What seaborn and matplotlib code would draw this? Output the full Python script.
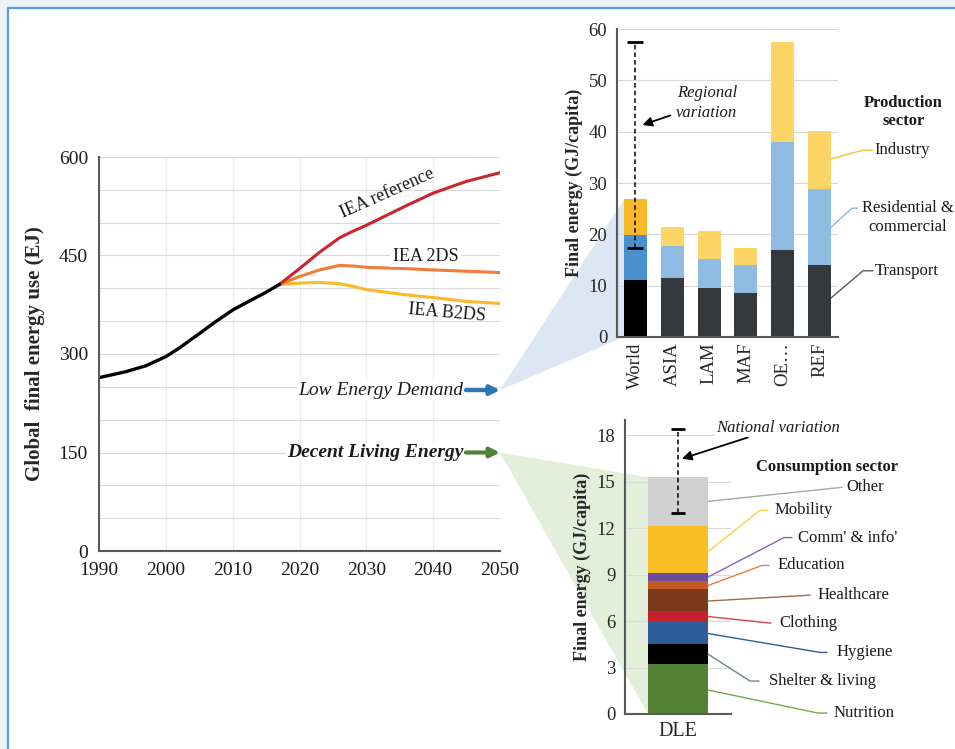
import matplotlib
matplotlib.use("Agg")
import matplotlib.pyplot as plt
import matplotlib.patches as mpatches
import matplotlib.ticker as ticker
import pandas as pd
import seaborn as sns

sns.set_theme(style="white")
plt.rcParams["font.family"] = ["Liberation Serif", "DejaVu Serif"]
plt.rcParams["text.color"] = "#1a1a1a"

# global final energy use (EJ)
hist_years = [1990, 1994, 1997, 2000, 2002, 2005, 2007, 2010, 2012, 2015, 2017]
hist_ej = [264, 273, 282, 296, 309, 331, 346, 367, 378, 394, 406]

scen_years = [2017, 2020, 2023, 2026, 2028, 2030, 2033, 2036, 2040, 2045, 2050]
iea_ref = [406, 430, 455, 477, 487, 496, 511, 526, 545, 563, 576]
iea_2ds = [406, 418, 428, 435, 434, 432, 431, 430, 428, 426, 424]
iea_b2ds = [406, 408, 409, 407, 403, 398, 394, 390, 386, 380, 377]

led_ej = 245
dle_ej = 150

# final energy by production sector (GJ/capita)
regions = ["World", "ASIA", "LAM", "MAF", "OE\u2026", "REF"]
transport = [11.2, 11.5, 9.6, 8.5, 17.0, 14.0]
residential = [8.7, 6.3, 5.5, 5.5, 21.0, 14.8]
industry = [6.9, 3.7, 5.5, 3.4, 19.5, 11.3]
regional_range = [17.3, 57.4]

# decent living energy by consumption sector (GJ/capita)
dle_sectors = ["Nutrition", "Shelter & living", "Hygiene", "Clothing", "Healthcare",
               "Education", "Comm' & info'", "Mobility", "Other"]
dle_values = [3.2, 1.35, 1.4, 0.7, 1.45, 0.5, 0.5, 3.05, 3.15]
national_range = [13.0, 18.4]

W, H = 955, 749
fig = plt.figure(figsize=(W / 100, H / 100), dpi=100)
fig.patch.set_facecolor("#edf2f8")
fig.patches.append(mpatches.Rectangle(
    (8 / W, -0.1), 1.2, (H - 8) / H + 0.1, transform=fig.transFigure,
    facecolor="white", edgecolor="#5b9bd5", lw=1.6, zorder=-3))

spine_c = "#595959"
grid_c = "#d9d9d9"


def style_axes(ax):
    for s in ["top", "right"]:
        ax.spines[s].set_visible(False)
    for s in ["left", "bottom"]:
        ax.spines[s].set_color(spine_c)
        ax.spines[s].set_linewidth(1.5)


# ---------- left: global final energy ----------
ax1 = fig.add_axes([99 / W, (H - 551) / H, 401 / W, 394 / H])
ax1.set_facecolor("white")
df_hist = pd.DataFrame({"year": hist_years, "ej": hist_ej})
df_scen = pd.DataFrame({"year": scen_years, "ref": iea_ref, "2ds": iea_2ds, "b2ds": iea_b2ds})
sns.lineplot(data=df_scen, x="year", y="b2ds", color="#fbb829", lw=2.2, ax=ax1)
sns.lineplot(data=df_scen, x="year", y="2ds", color="#f07c3a", lw=2.2, ax=ax1)
sns.lineplot(data=df_scen, x="year", y="ref", color="#c9252c", lw=2.2, ax=ax1)
sns.lineplot(data=df_hist, x="year", y="ej", color="black", lw=2.4, ax=ax1)
for ln in ax1.lines:
    ln.set_solid_joinstyle("round")
ax1.set_xlim(1990, 2050)
ax1.set_ylim(0, 600)
ax1.set_xticks(range(1990, 2051, 10))
ax1.set_yticks(range(0, 601, 150))
ax1.yaxis.set_minor_locator(ticker.MultipleLocator(50))
ax1.grid(True, axis="y", which="both", color=grid_c, lw=0.8)
ax1.grid(True, axis="x", which="major", color="#ececec", lw=0.8)
ax1.set_axisbelow(True)
style_axes(ax1)
ax1.tick_params(axis="both", which="major", direction="out", length=5, width=1.2,
                color=spine_c, labelsize=14, labelcolor="#1a1a1a", pad=3)
ax1.tick_params(axis="y", which="minor", length=0)
ax1.set_xlabel("")
ax1.set_ylabel("Global  final energy use (EJ)", fontsize=15, fontweight="bold", labelpad=10)

ax1.text(2033.1, 545, "IEA reference", rotation=24, ha="center", va="center", fontsize=13)
ax1.text(2038.9, 449, "IEA 2DS", ha="center", va="center", fontsize=13,
         bbox=dict(facecolor="white", edgecolor="none", pad=2))
ax1.text(2042.1, 362, "IEA B2DS", rotation=-5, ha="center", va="center", fontsize=13)

ax1.text(2044.5, led_ej, "Low Energy Demand", ha="right", va="center", fontsize=14,
         style="italic", bbox=dict(facecolor="white", edgecolor="none", pad=1))
ax1.annotate("", xy=(2050, led_ej), xytext=(2044.9, led_ej),
             arrowprops=dict(arrowstyle="-|>", color="#2e75b6", lw=3, mutation_scale=14,
                             shrinkA=0, shrinkB=0))
ax1.text(2044.5, dle_ej, "Decent Living Energy", ha="right", va="center", fontsize=14,
         style="italic", fontweight="bold", bbox=dict(facecolor="white", edgecolor="none", pad=1))
ax1.annotate("", xy=(2050, dle_ej), xytext=(2044.9, dle_ej),
             arrowprops=dict(arrowstyle="-|>", color="#548235", lw=3, mutation_scale=14,
                             shrinkA=0, shrinkB=0))

# ---------- top right: production sectors ----------
ax2 = fig.add_axes([617 / W, (H - 337) / H, 221 / W, 308 / H])
ax2.patch.set_alpha(0)
res_top = [t + r for t, r in zip(transport, residential)]
tot_top = [a + i for a, i in zip(res_top, industry)]
df_prod = pd.DataFrame({"region": regions, "transport": transport,
                        "residential": res_top, "industry": tot_top})
ind_pal = {r: ("#fbb829" if r == "World" else "#fdd466") for r in regions}
res_pal = {r: ("#4a90cf" if r == "World" else "#8dbbe2") for r in regions}
tra_pal = {r: ("#000000" if r == "World" else "#36393c") for r in regions}
for col, pal in [("industry", ind_pal), ("residential", res_pal), ("transport", tra_pal)]:
    sns.barplot(data=df_prod, x="region", y=col, hue="region", palette=pal, legend=False,
                saturation=1, width=0.62, errorbar=None, linewidth=0, edgecolor="none",
                ax=ax2, zorder=2)
ax2.set_xlim(-0.5, 5.5)
ax2.set_ylim(0, 60)
ax2.set_yticks(range(0, 61, 10))
ax2.grid(True, axis="y", color=grid_c, lw=0.8)
ax2.set_axisbelow(True)
style_axes(ax2)
ax2.set_xticks(range(len(regions)))
ax2.set_xticklabels(regions, rotation=90)
ax2.xaxis.set_minor_locator(ticker.FixedLocator([i - 0.5 for i in range(len(regions) + 1)]))
ax2.tick_params(axis="x", which="major", length=0, labelsize=13.5, pad=4)
ax2.tick_params(axis="x", which="minor", direction="out", length=6, width=1.2, color=spine_c)
ax2.tick_params(axis="y", which="major", direction="out", length=5, width=1.2, color=spine_c,
                labelsize=13.5, pad=2)
ax2.set_xlabel("")
ax2.set_ylabel("Final energy (GJ/capita)", fontsize=13, fontweight="bold", labelpad=4)

mid = sum(regional_range) / 2
half = (regional_range[1] - regional_range[0]) / 2
eb = ax2.errorbar(0, mid, yerr=half, fmt="none", ecolor="black", elinewidth=1.1,
                  capsize=6, capthick=2, zorder=4)
eb.lines[2][0].set_linestyle((0, (3, 2)))
ax2.annotate("Regional\nvariation", xy=(0.19, 41.3), xytext=(1.94, 45.6), ha="center",
             va="center", fontsize=12, style="italic", linespacing=1.3,
             arrowprops=dict(arrowstyle="-|>", color="black", lw=1.3, mutation_scale=14,
                             shrinkA=2, shrinkB=0))

ax2.text(7.27, 43.8, "Production\nsector", ha="center", va="center", fontsize=12,
         fontweight="bold", linespacing=1.2)
lines_prod = [
    ([5.31, 6.18, 6.45], [34.7, 36.4, 36.4], "#fbc02d"),
    ([5.31, 5.88, 6.04], [21.4, 25.1, 25.1], "#8dbbe2"),
    ([5.31, 6.18, 6.45], [7.6, 12.9, 12.9], "#595959"),
]
for xs, ys, c in lines_prod:
    ax2.plot(xs, ys, color=c, lw=1, clip_on=False)
ax2.text(6.5, 36.4, "Industry", ha="left", va="center", fontsize=12)
ax2.text(7.40, 23.3, "Residential &\ncommercial", ha="center", va="center", fontsize=12,
         linespacing=1.25)
ax2.text(6.5, 12.9, "Transport", ha="left", va="center", fontsize=12)

# ---------- bottom right: decent living energy ----------
ax3 = fig.add_axes([625 / W, (H - 714) / H, 106 / W, 294 / H])
ax3.patch.set_alpha(0)
dle_top = pd.Series(dle_values).cumsum().tolist()
df_dle = pd.DataFrame({"bar": "DLE", "sector": dle_sectors, "top": dle_top})
dle_colors = ["#548235", "#000000", "#2e5d9a", "#c5202b", "#7b3b1a",
              "#c55a27", "#6b4c9a", "#fbbd24", "#d0d0d0"]
sns.barplot(data=df_dle, x="bar", y="top", hue="sector", hue_order=dle_sectors[::-1],
            palette=dict(zip(dle_sectors, dle_colors)), dodge=False, legend=False,
            saturation=1, width=0.6, errorbar=None, linewidth=0, edgecolor="none",
            ax=ax3, zorder=2)
ax3.set_xlim(-0.53, 0.53)
ax3.set_ylim(0, 19)
ax3.set_yticks(range(0, 19, 3))
ax3.yaxis.set_minor_locator(ticker.MultipleLocator(1.5))
ax3.grid(True, axis="y", which="major", color=grid_c, lw=0.8)
ax3.set_axisbelow(True)
style_axes(ax3)
ax3.xaxis.set_minor_locator(ticker.FixedLocator([-0.53, 0.53]))
ax3.tick_params(axis="x", which="major", length=0, labelsize=14.5, pad=6)
ax3.tick_params(axis="x", which="minor", direction="out", length=6, width=1.2, color=spine_c)
ax3.tick_params(axis="y", which="both", direction="out", length=5, width=1.2, color=spine_c,
                labelsize=13.5, pad=2)
ax3.set_xlabel("")
ax3.set_ylabel("Final energy (GJ/capita)", fontsize=13, fontweight="bold", labelpad=4)

mid = sum(national_range) / 2
half = (national_range[1] - national_range[0]) / 2
eb = ax3.errorbar(0, mid, yerr=half, fmt="none", ecolor="black", elinewidth=1.1,
                  capsize=5, capthick=2, zorder=4)
eb.lines[2][0].set_linestyle((0, (3, 2)))
ax3.annotate("National variation", xy=(0.04, 16.5), xytext=(1.0, 18.5), ha="center",
             va="center", fontsize=12, style="italic", annotation_clip=False,
             bbox=dict(facecolor="white", edgecolor="none", pad=1),
             arrowprops=dict(arrowstyle="-|>", color="black", lw=1.3, mutation_scale=14,
                             shrinkA=1, shrinkB=0))

ax3.text(1.49, 15.94, "Consumption sector", ha="center", va="center", fontsize=12,
         fontweight="bold")
leader_c = ["#70ad47", "#6f8a6f", "#2e5d9a", "#e0404d", "#9c6a4a",
            "#e08040", "#8a60c0", "#ffd040", "#a6a6a6"]
leaders = [
    ([0.30, 1.40, 1.49], [1.55, 0.06, 0.06], 1.56),
    ([0.30, 0.72, 0.81], [3.87, 2.13, 2.13], 0.91),
    ([0.30, 1.42, 1.49], [5.2, 3.98, 3.98], 1.59),
    ([0.30, 0.93], [6.3, 5.87], 1.01),
    ([0.30, 1.32], [7.3, 7.68], 1.40),
    ([0.30, 0.84, 0.91], [8.3, 9.6, 9.6], 1.00),
    ([0.30, 1.06, 1.14], [8.85, 11.4, 11.4], 1.20),
    ([0.30, 0.82, 0.90], [10.5, 13.16, 13.16], 0.97),
    ([0.30, 1.64], [13.74, 14.65], 1.68),
]
for name, c, (xs, ys, tx) in zip(dle_sectors, leader_c, leaders):
    ax3.plot(xs, ys, color=c, lw=1, clip_on=False)
    ax3.text(tx, ys[-1], name, ha="left", va="center", fontsize=12)

# ---------- zoom fans linking the arrows to the bars ----------
to_fig = fig.transFigure.inverted()
tip = to_fig.transform(ax1.transData.transform((2050, led_ej)))
p_top = to_fig.transform(ax2.transData.transform((-0.31, tot_top[0])))
p_bot = to_fig.transform(ax2.transData.transform((-0.31, 0)))
fig.patches.append(mpatches.Polygon([tip, p_top, p_bot], closed=True, transform=fig.transFigure,
                                    facecolor="#dde7f3", edgecolor="none", zorder=-1))
tip = to_fig.transform(ax1.transData.transform((2050, dle_ej)))
p_top = to_fig.transform(ax3.transData.transform((-0.3, dle_top[-1])))
p_bot = to_fig.transform(ax3.transData.transform((-0.3, 0)))
fig.patches.append(mpatches.Polygon([tip, p_top, p_bot], closed=True, transform=fig.transFigure,
                                    facecolor="#e3efdb", edgecolor="none", zorder=-1))

fig.savefig("out.png", dpi=100, facecolor=fig.get_facecolor())
